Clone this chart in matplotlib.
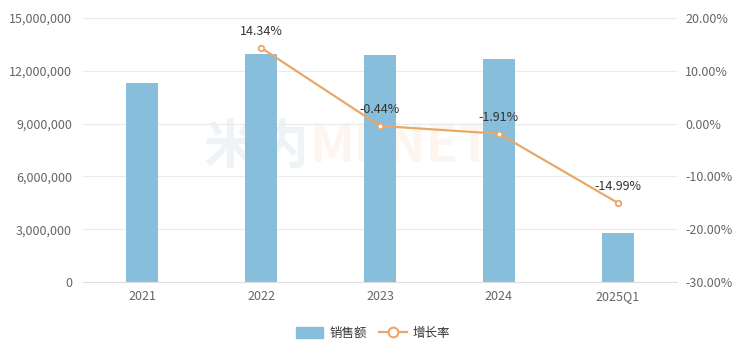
import matplotlib.pyplot as plt
from matplotlib.ticker import FuncFormatter

plt.rcParams['font.family'] = ['Noto Sans CJK SC', 'DejaVu Sans']

categories = ['2021', '2022', '2023', '2024', '2025Q1']
sales = [11330000, 12950000, 12890000, 12650000, 2800000]
growth = [None, 14.34, -0.44, -1.91, -14.99]

bar_color = '#86bedb'
line_color = '#e9a86a'
grid_color = '#ebebeb'
tick_color = '#666666'

fig = plt.figure(figsize=(7.46, 3.53), dpi=100)
ax = fig.add_axes([83 / 746, 1 - 282 / 353, 594 / 746, 264 / 353])
ax2 = ax.twinx()

x = list(range(len(categories)))
ax.bar(x, sales, width=0.27, color=bar_color, zorder=2)
ax.set_xlim(-0.5, len(categories) - 0.5)
ax.set_ylim(0, 15000000)
ax.set_yticks(range(0, 15000001, 3000000))
ax.yaxis.set_major_formatter(FuncFormatter(lambda v, p: f'{int(v):,}'))
ax.set_xticks(x)
ax.set_xticklabels(categories)
ax.grid(axis='y', color=grid_color, linewidth=0.8, zorder=0)
for s in ax.spines.values():
    s.set_visible(False)
for s in ax2.spines.values():
    s.set_visible(False)
ax.spines['bottom'].set_visible(True)
ax.spines['bottom'].set_color('#e0e0e0')
ax.tick_params(axis='both', length=0, colors=tick_color, labelsize=9)
ax.tick_params(axis='y', pad=8)
ax.tick_params(axis='x', pad=6)

gx = [i for i, g in zip(x, growth) if g is not None]
gy = [g for g in growth if g is not None]
ax2.plot(gx, gy, color=line_color, linewidth=1.6, marker='o', markersize=4,
         markerfacecolor='white', markeredgecolor=line_color, markeredgewidth=1.3, zorder=3)
ax2.set_ylim(-30, 20)
ax2.set_yticks(range(-30, 21, 10))
ax2.yaxis.set_major_formatter(FuncFormatter(lambda v, p: f'{v:.2f}%'))
ax2.tick_params(axis='y', length=0, colors=tick_color, labelsize=9, pad=6)
for xi, g in zip(gx, gy):
    ax2.annotate(f'{g:.2f}%', (xi, g), xytext=(0, 7), textcoords='offset points',
                 ha='center', va='bottom', fontsize=9, color='#333333')

# faint watermark behind the plot
fig.text(0.415, 1 - 147 / 353, '米内', fontsize=38, color='#eef4f6', ha='right', va='center',
         fontweight='bold', zorder=0)
fig.text(0.415, 1 - 147 / 353, 'MENET', fontsize=38, color='#fef5ee', ha='left', va='center',
         fontweight='bold', zorder=0)
ax.set_zorder(1)
ax.patch.set_visible(False)
ax2.set_zorder(2)

h1 = plt.Rectangle((0, 0), 1, 1, color=bar_color)
h2, = ax2.plot([], [], color=line_color, linewidth=1.6, marker='o', markersize=7,
               markerfacecolor='white', markeredgecolor=line_color, markeredgewidth=1.5)
fig.legend([h1, h2], ['销售额', '增长率'], loc='center', bbox_to_anchor=(0.5, 1 - 333 / 353),
           ncol=2, frameon=False, fontsize=9, labelcolor='#333333',
           handlelength=2.2, handleheight=1.0, columnspacing=1.0, handletextpad=0.5)

fig.savefig('out.png', dpi=100)
